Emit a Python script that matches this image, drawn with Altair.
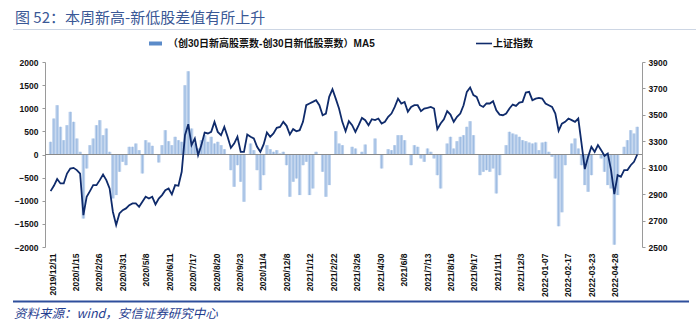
import json
import altair as alt
import pandas as pd

# ---------------- data ----------------
x_labels = ["2019/12/11", "2020/1/15", "2020/2/26", "2020/3/31", "2020/5/8", "2020/6/11",
            "2020/7/17", "2020/8/20", "2020/9/23", "2020/11/4", "2020/12/8", "2021/1/12",
            "2021/2/22", "2021/3/26", "2021/4/30", "2021/6/8", "2021/7/13", "2021/8/16",
            "2021/9/17", "2021/11/1", "2021/12/3", "2022-01-07", "2022-02-17", "2022-03-23",
            "2022-04-28"]
label_first_day = 2      # trading-day index of first label
label_step_days = 23     # trading days between labels
total_days = 576
sample_first_day = 0.6
sample_step_days = 3.216

# 上证指数 (sampled)
line_values = [
    2923, 2963, 3014, 2981, 2981, 3056, 3094, 3099, 3082, 3056, 2741, 2880, 2923, 2968, 2968, 3006, 3049, 3006,
    2943, 2767, 2666, 2754, 2779, 2792, 2817, 2830, 2830, 2804, 2842, 2880, 2867, 2880, 2822, 2867, 2893, 2930,
    2943, 2898, 2968, 2963, 3069, 3346, 3429, 3271, 3321, 3195, 3271, 3366, 3359, 3371, 3447, 3371, 3346, 3409,
    3334, 3250, 3283, 3334, 3220, 3220, 3351, 3334, 3321, 3258, 3220, 3276, 3366, 3334, 3359, 3402, 3409, 3447,
    3417, 3351, 3392, 3376, 3384, 3447, 3573, 3586, 3598, 3611, 3573, 3497, 3510, 3636, 3694, 3623, 3548, 3447,
    3376, 3452, 3422, 3371, 3422, 3477, 3460, 3422, 3467, 3460, 3472, 3434, 3447, 3485, 3510, 3560, 3623, 3586,
    3598, 3523, 3560, 3573, 3573, 3528, 3548, 3553, 3560, 3548, 3392, 3434, 3467, 3528, 3502, 3447, 3485, 3510,
    3573, 3674, 3707, 3649, 3636, 3573, 3560, 3586, 3586, 3603, 3535, 3502, 3497, 3510, 3548, 3578, 3568, 3593,
    3598, 3669, 3674, 3611, 3623, 3628, 3623, 3586, 3573, 3560, 3510, 3380, 3434, 3447, 3472, 3460, 3447, 3472,
    3283, 3090, 3182, 3258, 3220, 3271, 3233, 3190, 3208, 3082, 2900, 3044, 3031, 3082, 3082, 3119, 3145, 3200,
]

# (创30日新高股票数-创30日新低股票数) MA5 (sampled)
bar_values = [
    274, 778, 1066, 598, 310, 634, 922, 706, 346, 58, -1385, -302, 202, 346, 634, 742, 418, 562,
    58, -950, -878, -374, -158, -230, 166, 166, 238, 94, -410, 310, 259, 187, 0, -173, 202, 526,
    288, 202, 382, 310, 274, 1498, 1800, 562, 238, 130, 310, 418, 274, 382, 238, 274, 202, 115,
    0, -338, -698, -230, -590, -1022, 0, 238, 94, -338, -770, -446, 202, 115, 58, 94, 22, 58,
    -230, -914, -590, -518, -878, -230, -158, -878, -734, 58, 0, -374, -914, -662, 0, 504, 238, 202,
    0, 0, 166, 130, 0, 58, 216, 0, 0, 346, 0, -302, 0, 115, 94, 202, 418, 418,
    310, 0, -230, 202, 166, -86, -158, 130, 58, -86, -446, -734, 0, 238, 382, 130, 288, 382,
    418, 598, 720, 418, 0, -446, -374, -338, -374, -302, -842, -446, 0, 202, 490, 454, 432, 382,
    310, 288, 259, 238, 259, 94, 259, 274, 58, -50, -518, -1550, -1250, -230, 0, 238, 346, 130,
    -230, -662, -806, -446, 0, 0, -86, -374, -662, -734, -1950, -878, 0, 166, 310, 526, 454, 598,
]

left_ticks = [-2000, -1500, -1000, -500, 0, 500, 1000, 1500, 2000]
right_ticks = [2500, 2700, 2900, 3100, 3300, 3500, 3700, 3900]

title_text = "图 52：本周新高-新低股差值有所上升"
legend_bar_text = "（创30日新高股票数-创30日新低股票数）MA5"
legend_line_text = "上证指数"
source_text = "资料来源：wind，安信证券研究中心"

# ---------------- build ----------------
days = [sample_first_day + i * sample_step_days for i in range(len(bar_values))]
df = pd.DataFrame({"day": days, "diff": bar_values, "idx": line_values})
tick_days = [label_first_day + k * label_step_days for k in range(len(x_labels))]

W, H = 597, 185
PAD_L, PAD_T = 45, 62
FONT = "Liberation Sans, Noto Sans CJK SC, sans-serif"
CJK = "Noto Sans CJK SC, sans-serif"
NAVY = "#0f2b6b"
BAR = "#bfd3ed"
BAR_DARK = "#8eb0dc"

label_expr = "%s[round((datum.value - %d) / %d)]" % (json.dumps(x_labels, ensure_ascii=False),
                                                     label_first_day, label_step_days)

x_enc = alt.X("day:Q",
              scale=alt.Scale(domain=[0, total_days], nice=False, zero=False),
              axis=alt.Axis(values=tick_days, labelExpr=label_expr, labelAngle=-90,
                            labelFont=FONT, labelFontSize=8.5, labelFontWeight="bold",
                            labelColor="#111", domain=False, ticks=False, grid=False,
                            labelPadding=6, title=None, labelOverlap=False,
                            labelBound=False, labelFlush=False))

axis_common = dict(labelFont=FONT, labelFontSize=8.5, labelFontWeight="bold", labelColor="#111",
                   domainColor="#9a9a9a", tickColor="#9a9a9a", tickSize=3, grid=False, title=None,
                   format="d", labelOverlap=False, labelFlush=False)

left_scale = alt.Scale(domain=[-2000, 2000], nice=False)
left_axis = alt.Axis(orient="left", values=left_ticks, labelPadding=4, **axis_common)
y_left = alt.Y("diff:Q", scale=left_scale, axis=left_axis)

bars = alt.Chart(df).mark_bar(size=3.5, color=BAR).encode(x=x_enc, y=y_left)
bars_inner = alt.Chart(df).mark_bar(size=1, color=BAR_DARK, opacity=0.75).encode(x=x_enc, y=y_left)
zero_rule = alt.Chart(df).mark_rule(color="#8a8a8a", strokeWidth=1).encode(
    y=alt.YDatum(0, scale=left_scale, axis=left_axis))
left_layer = alt.layer(bars, bars_inner, zero_rule)

line = alt.Chart(df).mark_line(color=NAVY, strokeWidth=1.8).encode(
    x=x_enc,
    y=alt.Y("idx:Q", scale=alt.Scale(domain=[2500, 3900], nice=False, zero=False),
            axis=alt.Axis(orient="right", values=right_ticks, labelPadding=3, **axis_common)),
)

one = pd.DataFrame({"k": [0]})


def px(x):
    return x - PAD_L


def py(y):
    return y - PAD_T


title = alt.Chart(one).mark_text(text=title_text, align="left", baseline="middle", font=CJK,
                                 fontSize=15, color="#3a5896").encode(
    x=alt.value(px(15)), y=alt.value(py(17.5)))
top_rule = alt.Chart(one).mark_rule(color="#cdd6e4", strokeWidth=1).encode(
    x=alt.value(px(13)), x2=alt.value(px(696)), y=alt.value(py(29.5)))
leg_swatch = alt.Chart(one).mark_rect(color="#5b8bc9").encode(
    x=alt.value(px(149)), x2=alt.value(px(162)), y=alt.value(py(41.5)), y2=alt.value(py(45.5)))
leg_text1 = alt.Chart(one).mark_text(text=legend_bar_text, align="left", baseline="middle",
                                     font=FONT, fontSize=10, fontWeight="bold", color="#111").encode(
    x=alt.value(px(168)), y=alt.value(py(43.5)))
leg_line = alt.Chart(one).mark_rule(color=NAVY, strokeWidth=1.6).encode(
    x=alt.value(px(476)), x2=alt.value(px(492)), y=alt.value(py(43.5)))
leg_text2 = alt.Chart(one).mark_text(text=legend_line_text, align="left", baseline="middle",
                                     font=FONT, fontSize=10, fontWeight="bold", color="#111").encode(
    x=alt.value(px(493)), y=alt.value(py(43.5)))
bottom_rule = alt.Chart(one).mark_rule(color="#2f4f9c", strokeWidth=2).encode(
    x=alt.value(px(13)), x2=alt.value(px(689)), y=alt.value(py(301.5)))
source = alt.Chart(one).mark_text(text=source_text, align="left", baseline="middle", font=CJK,
                                  fontSize=12.5, fontStyle="italic", color="#1f3d8f").encode(
    x=alt.value(px(14)), y=alt.value(py(313.5)))

chart = alt.layer(
    left_layer, line, title, top_rule, leg_swatch, leg_text1, leg_line, leg_text2, bottom_rule, source
).resolve_scale(y="independent").properties(
    width=W, height=H,
    autosize=alt.AutoSizeParams(type="none"),
    padding={"left": PAD_L, "top": PAD_T, "right": 696 - PAD_L - W, "bottom": 324 - PAD_T - H},
    background="white",
).configure_view(stroke=None)

chart.save("out.html", embed_options={"renderer": "svg", "actions": False})
